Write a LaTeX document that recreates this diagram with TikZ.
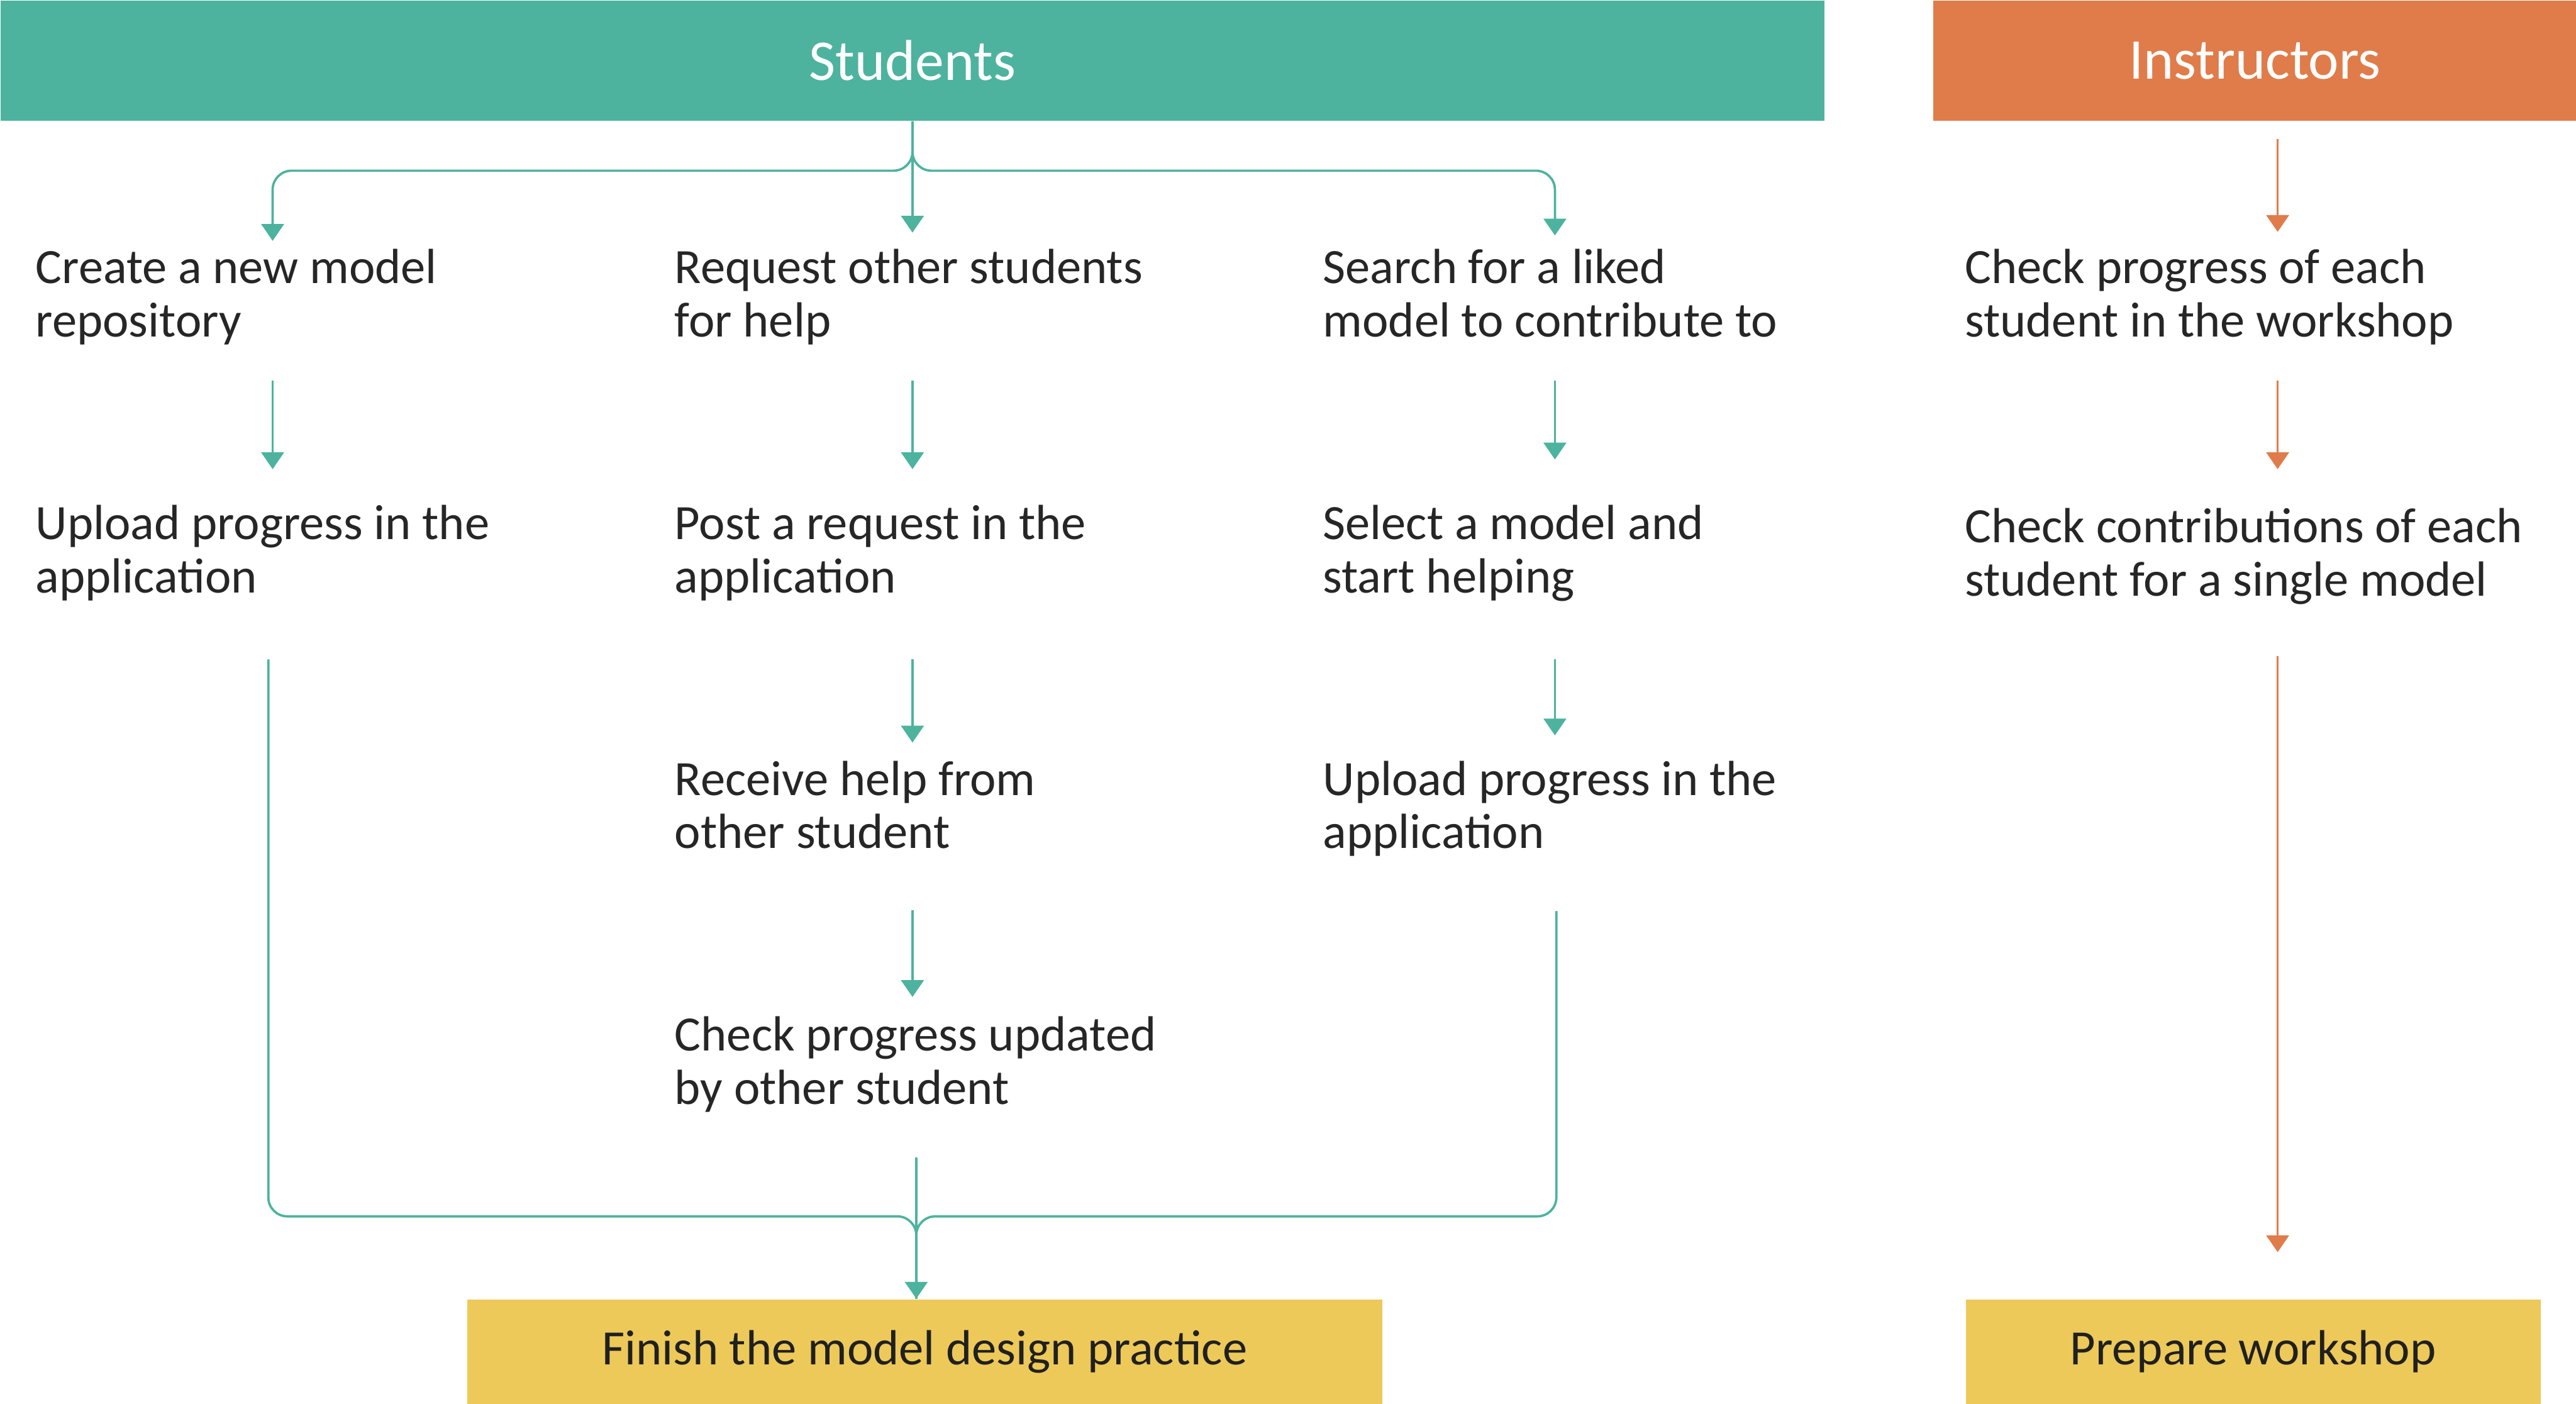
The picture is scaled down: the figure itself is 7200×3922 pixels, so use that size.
\documentclass[tikz,border=0pt]{standalone}
\usepackage{fontspec}
\setmainfont{Carlito}
\usetikzlibrary{arrows.meta,calc}
\definecolor{cStu}{HTML}{4DB39E}
\definecolor{cIns}{HTML}{E07C4A}
\definecolor{cFin}{HTML}{EDC95A}
\definecolor{cTxt}{HTML}{262626}
\tikzset{
  hdr/.style  ={fill=#1,text=white,inner sep=0pt,minimum height=33.5pt,
                font=\fontsize{16.1}{19}\selectfont},
  % base of a two-line step is its last line
  txt/.style  ={anchor=base west,align=left,inner sep=0pt,text=cTxt,
                text height=24.9pt,text depth=4pt,
                font=\fontsize{13.8}{14.9}\selectfont},
  goal/.style ={fill=cFin,text=cTxt!85!black,inner sep=0pt,minimum height=29.3pt,
                font=\fontsize{13.8}{14.9}\selectfont},
  flow/.style ={draw=#1,line width=0.65pt,-{Triangle[length=4.7pt,width=6.3pt]}},
  link/.style ={draw=cStu,line width=0.65pt,rounded corners=5.3pt},
}

\begin{document}
\begin{tikzpicture}[x=0.1pt,y=-0.1pt]
\useasboundingbox (0,0) rectangle (7200,3922);

% ---- lane headers --------------------------------------------------------
\node[hdr=cStu,minimum width=509.7pt,anchor=north west] (stu) at (0,0) {Students};
\node[hdr=cIns,minimum width=179.9pt,anchor=north west] (ins) at (5401,0) {Instructors};

% ---- steps ---------------------------------------------------------------
% {name}/{x}/{last baseline}/{text}
\foreach \nm/\x/\y/\lab in {%
  p11/98/941/{Create a new model\\repository},
  p12/98/1656/{Upload progress in the\\application},
  p21/1884/941/{Request other students\\for help},
  p22/1884/1656/{Post a request in the\\application},
  p23/1884/2371/{Receive help from\\other student},
  p24/1884/3086/{Check progress updated\\by other student},
  p31/3696/941/{Search for a liked\\model to contribute to},
  p32/3696/1656/{Select a model and\\start helping},
  p33/3696/2371/{Upload progress in the\\application},
  i1/5490/941/{Check progress of each\\student in the workshop},
  i2/5490/1665/{Check contributions of each\\student for a single model}}{%
    \node[txt] (\nm) at (\x,\y) {\lab};
}

\node[goal,minimum width=255.7pt,anchor=north west] (fin)  at (1304,3629)
  {Finish the model design practice};
\node[goal,minimum width=160.7pt,anchor=north west] (prep) at (5492,3629)
  {Prepare workshop};

% ---- column lines --------------------------------------------------------
\coordinate (fanL)  at (762,477);
\coordinate (fanR)  at (4346,477);
\coordinate (joinL) at (750,3399);
\coordinate (joinR) at (4350,3399);
\coordinate (mrg)   at (2561,3399);
\coordinate (colI)  at (6366,335);

% fan out from the Students bar
\draw[link,flow=cStu,shorten >=1.7pt] (stu.south) |- (fanL) -- (p11.north -| fanL);
\draw[flow=cStu,shorten >=4pt] (stu.south) -- (stu.south |- p21.north);
\draw[link,flow=cStu,shorten >=3.2pt] (stu.south) |- (fanR) -- (p31.north -| fanR);

% down each column
\draw[flow=cStu,shorten <=8pt,shorten >=9.4pt] (p11.south -| fanL) -- (p12.north -| fanL);
\draw[flow=cStu,shorten <=8pt,shorten >=9.4pt] (p21.south -| stu.south) -- (p22.north -| stu.south);
\draw[flow=cStu,shorten <=14.5pt,shorten >=4.5pt] (p22.south -| stu.south) -- (p23.north -| stu.south);
\draw[flow=cStu,shorten <=13.1pt,shorten >=4.9pt] (p23.south -| stu.south) -- (p24.north -| stu.south);
\draw[flow=cStu,shorten <=8pt,shorten >=12.1pt] (p31.south -| fanR) -- (p32.north -| fanR);
\draw[flow=cStu,shorten <=14.5pt,shorten >=6.5pt] (p32.south -| fanR) -- (p33.north -| fanR);

% merge into the last step
\draw[link,shorten <=14.5pt] (p12.south -| joinL) |- (mrg) -- (fin.north -| mrg);
\draw[link,shorten <=13.3pt] (p33.south -| joinR) |- (mrg) -- (fin.north -| mrg);
\draw[flow=cStu,shorten <=10.6pt] (p24.south -| mrg) -- (fin.north -| mrg);

% instructors lane
\draw[flow=cIns,shorten <=5.4pt,shorten >=4.2pt] (colI) -- (i1.north -| colI);
\draw[flow=cIns,shorten <=8pt,shorten >=10.3pt] (i1.south -| colI) -- (i2.north -| colI);
\draw[flow=cIns,shorten <=12.7pt,shorten >=13pt] (i2.south -| colI) -- (prep.north -| colI);
\end{tikzpicture}
\end{document}
